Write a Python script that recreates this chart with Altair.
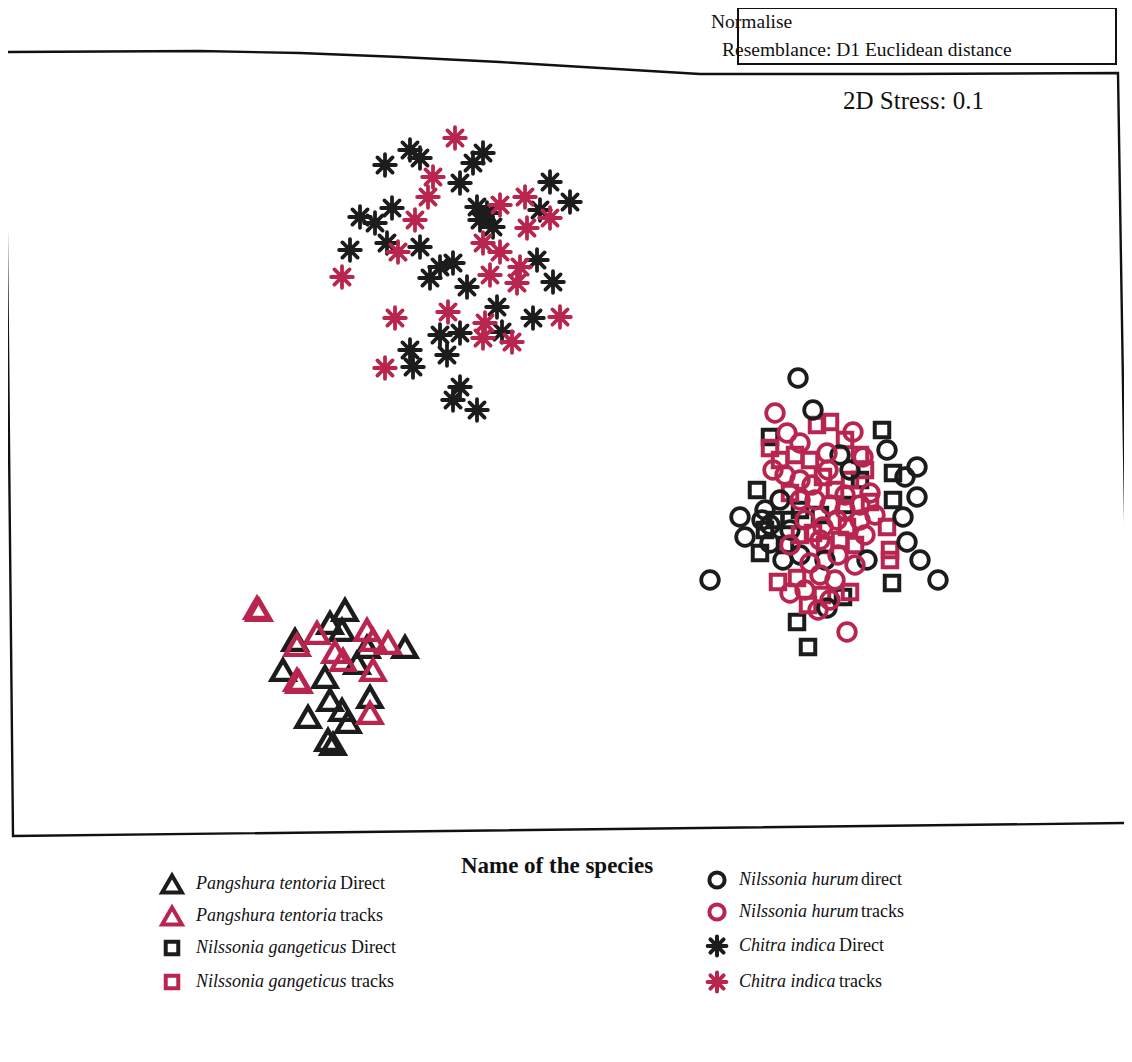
import altair as alt
import pandas as pd

# ---- NMDS ordination coordinates (in plot units) ----
pt_direct_x = [345, 330, 342, 405, 367, 295, 283, 325, 357, 330, 342, 370, 308, 348, 328, 333]
pt_direct_y = [610, 623, 630, 647, 647, 640, 670, 677, 663, 700, 710, 697, 717, 722, 740, 744]
pt_tracks_x = [257, 259, 317, 297, 367, 373, 388, 335, 343, 373, 297, 299, 370]
pt_tracks_y = [608, 610, 633, 645, 630, 640, 643, 652, 660, 670, 680, 682, 713]

ng_direct_x = [882, 893, 760, 892, 797, 808, 893, 770, 757, 843, 775, 800, 860, 785, 790, 820, 845, 765]
ng_direct_y = [430, 500, 553, 583, 622, 647, 473, 437, 490, 597, 520, 510, 480, 545, 520, 515, 505, 530]
ng_tracks_x = [830, 817, 770, 890, 890, 778, 797, 850, 870, 887, 847, 790, 823, 813, 810, 795, 855, 825, 845, 780,
               835, 850, 865, 800, 840, 822, 808, 860]
ng_tracks_y = [422, 425, 448, 550, 560, 582, 578, 592, 502, 527, 527, 493, 477, 533, 460, 455, 545, 545, 440, 460,
               490, 480, 470, 535, 540, 595, 605, 455]

nh_direct_x = [798, 813, 887, 917, 905, 917, 740, 745, 903, 907, 920, 710, 938, 827, 867, 762, 770, 783, 780, 765,
               790, 850, 840, 770, 800, 825]
nh_direct_y = [378, 410, 450, 467, 477, 497, 517, 537, 517, 542, 560, 580, 580, 608, 560, 520, 543, 560, 500, 510,
               530, 470, 455, 525, 555, 560]
nh_tracks_x = [775, 787, 853, 863, 827, 773, 870, 823, 790, 847, 800, 837, 810, 800, 815, 830, 845, 860, 805, 820,
               835, 785, 865, 800, 812, 828, 845, 860, 875, 820, 838, 855, 790, 805, 830, 818]
nh_tracks_y = [413, 433, 432, 457, 453, 470, 493, 527, 593, 632, 443, 520, 563, 480, 500, 505, 510, 505, 520, 575,
               580, 475, 535, 500, 485, 470, 495, 520, 515, 540, 555, 565, 545, 590, 600, 610]

ci_direct_x = [410, 420, 385, 483, 473, 460, 550, 570, 360, 375, 392, 387, 350, 420, 453, 440, 430, 467,
               480, 493, 540, 537, 553, 497, 533, 440, 460, 502, 410, 413, 447, 460, 453, 477, 487, 477]
ci_direct_y = [150, 158, 165, 153, 163, 183, 182, 202, 217, 223, 208, 243, 250, 247, 263, 267, 278, 287,
               220, 227, 210, 260, 282, 307, 318, 335, 333, 332, 350, 367, 355, 387, 400, 410, 213, 207]
ci_tracks_x = [455, 433, 428, 415, 398, 342, 500, 525, 527, 550, 483, 500, 520, 490, 517, 395, 448, 485,
               483, 512, 560, 385]
ci_tracks_y = [138, 177, 197, 220, 252, 277, 205, 197, 228, 218, 243, 252, 267, 275, 283, 318, 312, 323,
               338, 342, 317, 368]

groups = [
    ("Pangshura tentoria", "Direct", "Direct", pt_direct_x, pt_direct_y),
    ("Pangshura tentoria", "tracks", "tracks", pt_tracks_x, pt_tracks_y),
    ("Nilssonia gangeticus", "Direct", "Direct", ng_direct_x, ng_direct_y),
    ("Nilssonia gangeticus", "tracks", "tracks", ng_tracks_x, ng_tracks_y),
    ("Nilssonia hurum", "direct", "Direct", nh_direct_x, nh_direct_y),
    ("Nilssonia hurum", "tracks", "tracks", nh_tracks_x, nh_tracks_y),
    ("Chitra indica", "Direct", "Direct", ci_direct_x, ci_direct_y),
    ("Chitra indica", "tracks", "tracks", ci_tracks_x, ci_tracks_y),
]

BLACK = "#1c1c1c"
RED = "#b8264f"
ASTERISK = "M0,-1L0,1M-1,0L1,0M-0.7,-0.7L0.7,0.7M-0.7,0.7L0.7,-0.7"
species_shape = {
    "Pangshura tentoria": "triangle-up",
    "Nilssonia gangeticus": "square",
    "Nilssonia hurum": "circle",
    "Chitra indica": ASTERISK,
}
species_size = {
    "Pangshura tentoria": 520,
    "Nilssonia gangeticus": 210,
    "Nilssonia hurum": 310,
    "Chitra indica": 470,
}
species_sw = {
    "Pangshura tentoria": 4.4,
    "Nilssonia gangeticus": 4.0,
    "Nilssonia hurum": 3.8,
    "Chitra indica": 3.8,
}

rows = []
order = 0
for sp, label, kind, xs, ys in groups:
    for x, y in zip(xs, ys):
        rows.append({"species": sp, "kind": kind, "NMDS1": x, "NMDS2": y,
                     "shape": species_shape[sp], "size": species_size[sp], "sw": species_sw[sp],
                     "color": BLACK if kind == "Direct" else RED, "ord": order})
        order += 1
pts = pd.DataFrame(rows)

W, H = 1116, 1046
xs = alt.Scale(domain=[8, 8 + W], nice=False, zero=False)
ys = alt.Scale(domain=[8 + H, 8], nice=False, zero=False)
X = lambda f: alt.X(f, type="quantitative", scale=xs, axis=None)
Y = lambda f: alt.Y(f, type="quantitative", scale=ys, axis=None)

points = alt.Chart(pts).mark_point(filled=False, opacity=1, strokeCap="round").encode(
    x=X("NMDS1"), y=Y("NMDS2"),
    shape=alt.Shape("shape:N", scale=None),
    size=alt.Size("size:Q", scale=None),
    strokeWidth=alt.StrokeWidth("sw:Q", scale=None),
    color=alt.Color("color:N", scale=None),
    order=alt.Order("ord:Q"),
)

# ---- frame (scanned, slightly skewed) ----
frame = pd.DataFrame({
    "fx": [5, 200, 300, 400, 500, 600, 700, 900, 1118, 1130, 13, 5],
    "fy": [52, 51, 53, 57, 62, 68, 74, 74, 73, 823, 836, 52],
    "i": list(range(12)),
})
frame_line = alt.Chart(frame).mark_line(color="#111", strokeWidth=2.4).encode(
    x=X("fx"), y=Y("fy"), order="i:Q")

box = pd.DataFrame({"bx": [738], "by": [8], "bx2": [1116], "by2": [64]})
top_box = alt.Chart(box).mark_rect(fill=None, stroke="#111", strokeWidth=2).encode(
    x=X("bx"), y=Y("by"), x2="bx2", y2="by2")

notes = pd.DataFrame({
    "tx": [711, 722, 843],
    "ty": [22, 50, 101],
    "t": ["Normalise", "Resemblance: D1 Euclidean distance", "2D Stress: 0.1"],
    "fs": [19.5, 19.5, 25],
})
note_text = alt.Chart(notes).mark_text(align="left", baseline="middle", font="Liberation Serif", color="#111").encode(
    x=X("tx"), y=Y("ty"), text="t:N", size=alt.Size("fs:Q", scale=None))

title_df = pd.DataFrame({"tx": [557], "ty": [866], "t": ["Name of the species"]})
title_text = alt.Chart(title_df).mark_text(align="center", baseline="middle", font="Liberation Serif",
                                           fontWeight="bold", fontSize=23, color="#111").encode(
    x=X("tx"), y=Y("ty"), text="t:N")

# ---- legend (drawn by hand to mix italic and upright text) ----
leg_mx = [172, 172, 172, 172, 717, 717, 717, 717]
leg_my = [884, 916, 948, 982, 880, 912, 946, 982]
leg_tx = [196, 196, 196, 196, 739, 739, 739, 739]
leg_sx = [340, 340, 351, 351, 861, 861, 839, 839]
leg = pd.DataFrame({
    "mx": leg_mx, "my": leg_my, "tx": leg_tx, "sx": leg_sx,
    "species": [g[0] for g in groups],
    "suffix": [g[1] for g in groups],
    "shape": [species_shape[g[0]] for g in groups],
    "size": [species_size[g[0]] * 0.75 for g in groups],
    "color": [BLACK if g[2] == "Direct" else RED for g in groups],
})
leg_marks = alt.Chart(leg).mark_point(filled=False, strokeWidth=4, opacity=1, strokeCap="round").encode(
    x=X("mx"), y=Y("my"),
    shape=alt.Shape("shape:N", scale=None),
    size=alt.Size("size:Q", scale=None),
    color=alt.Color("color:N", scale=None),
)
leg_names = alt.Chart(leg).mark_text(align="left", baseline="middle", font="Liberation Serif",
                                     fontStyle="italic", fontSize=18, color="#111").encode(
    x=X("tx"), y=Y("my"), text="species:N")
leg_suffix = alt.Chart(leg).mark_text(align="left", baseline="middle", font="Liberation Serif",
                                      fontSize=18, color="#111").encode(
    x=X("sx"), y=Y("my"), text="suffix:N")

chart = alt.layer(
    frame_line, note_text, top_box, points, title_text, leg_marks, leg_names, leg_suffix
).properties(
    width=W, height=H, padding=0, autosize=alt.AutoSizeParams(type="none"),
    background="white",
).configure_view(stroke=None)

chart.save("out.html", embed_options={"renderer": "svg", "actions": False})
